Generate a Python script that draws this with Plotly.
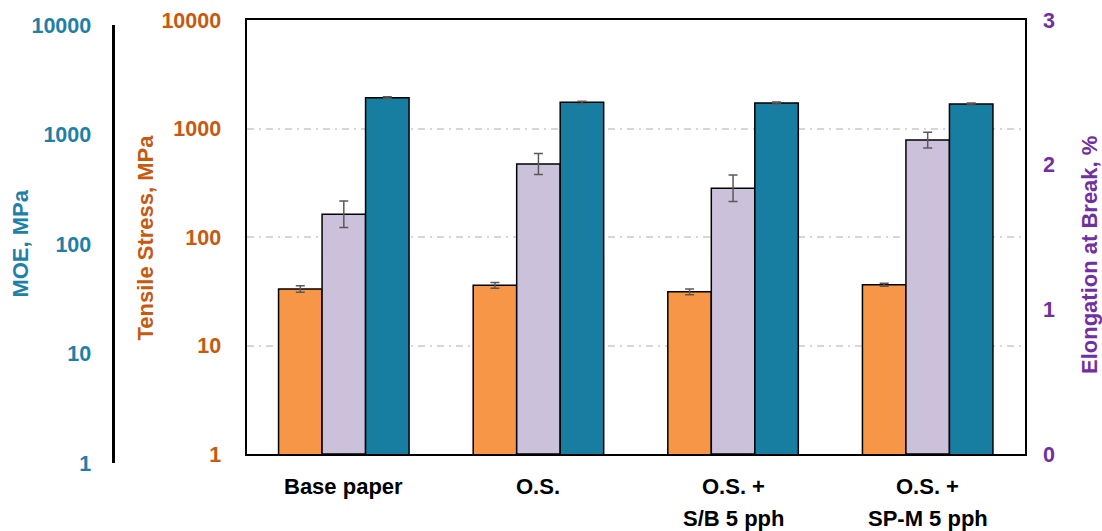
import plotly.graph_objects as go

categories = ["Base paper", "O.S.", "O.S. +\nS/B 5 pph", "O.S. +\nSP-M 5 pph"]
tensile = [33.2, 35.9, 31.3, 36.3]
tensile_err = [2.3, 2.2, 1.9, 1.2]
elongation = [1.657, 2.005, 1.837, 2.17]
elongation_err = [0.091, 0.073, 0.091, 0.054]
moe = [1923, 1743, 1718, 1683]
moe_err = [35, 40, 35, 35]
log_ticks = [1, 10, 100, 1000, 10000]
elong_ticks = [0, 1, 2, 3]

ORANGE_TXT = "#C55A11"
TEAL_TXT = "#1F80A7"
PURPLE = "#7030A0"
FONT = "Liberation Sans, Arial, sans-serif"
TICK_FS = 21.5
TITLE_FS = 22
CAT_FS = 22

W, H = 1102, 531
ML, MR, MT, MB = 60, 77, 10, 60
pw = W - ML - MR
ph = H - MT - MB


def px_x(x):
    return (x - ML) / pw


def px_y(y):
    return (H - MB - y) / ph


bar_w = 0.2235
err_style = dict(type="data", color="#595959", thickness=1.5, width=4.5)
line = dict(color="black", width=1.5)

fig = go.Figure()
fig.add_trace(go.Bar(x=categories, y=tensile, name="Tensile Stress",
                     marker=dict(color="#F79646", line=line),
                     width=bar_w, offset=-1.5 * bar_w,
                     error_y=dict(array=tensile_err, **err_style),
                     yaxis="y"))
fig.add_trace(go.Bar(x=categories, y=elongation, name="Elongation at Break",
                     marker=dict(color="#CCC1DA", line=line),
                     width=bar_w, offset=-0.5 * bar_w,
                     error_y=dict(array=elongation_err, **err_style),
                     yaxis="y2"))
fig.add_trace(go.Bar(x=categories, y=moe, name="MOE",
                     marker=dict(color="#177EA1", line=line),
                     width=bar_w, offset=0.5 * bar_w,
                     error_y=dict(array=moe_err, **err_style),
                     yaxis="y3"))
# empty trace so that the displayed MOE axis gets drawn
fig.add_trace(go.Scatter(x=[], y=[], yaxis="y4", hoverinfo="skip"))

tick_font = dict(family=FONT, size=TICK_FS, weight="bold")
ydom = [px_y(454), px_y(20)]

fig.update_layout(
    width=W, height=H,
    margin=dict(l=ML, r=MR, t=MT, b=MB, autoexpand=False),
    paper_bgcolor="white", plot_bgcolor="rgba(0,0,0,0)",
    showlegend=False,
    barmode="overlay",
    font=dict(family=FONT, size=TICK_FS),
    xaxis=dict(type="category", domain=[px_x(246.5), px_x(1025)], range=[-0.5, 3.5],
               showticklabels=False, ticks="", showgrid=False,
               showline=True, linecolor="black", linewidth=2, mirror=True,
               anchor="y", automargin=False),
    yaxis=dict(type="log", range=[0, 4], domain=ydom, tickvals=log_ticks,
               ticktext=[str(v) for v in log_ticks],
               tickfont=dict(color=ORANGE_TXT, **tick_font),
               ticklabelstandoff=19, ticks="",
               showgrid=True, gridcolor="#D6D6D6", gridwidth=1.5,
               griddash="7px,5px,2px,5px",
               showline=True, linecolor="black", linewidth=2, mirror=True,
               zeroline=False, anchor="x", automargin=False),
    yaxis2=dict(range=[0, 3], overlaying="y", side="right", anchor="x",
                tickvals=elong_ticks, ticktext=[str(v) for v in elong_ticks],
                tickfont=dict(color=PURPLE, **tick_font),
                ticklabelstandoff=17, ticks="",
                showgrid=False, zeroline=False, showline=False,
                automargin=False),
    yaxis3=dict(type="log", range=[0, 4], overlaying="y", visible=False,
                showgrid=False, automargin=False),
    yaxis4=dict(type="log", range=[0, 4], anchor="free",
                position=px_x(113.3), domain=[px_y(463.3), px_y(25)],
                tickvals=log_ticks, ticktext=[str(v) for v in log_ticks],
                tickfont=dict(color=TEAL_TXT, **tick_font),
                ticklabelstandoff=17, ticks="",
                showgrid=False, zeroline=False,
                showline=True, linecolor="black", linewidth=2.5,
                automargin=False),
)

title_font = dict(family=FONT, size=TITLE_FS)
annots = [
    dict(text="<b>Tensile Stress, MPa</b>", x=px_x(145), y=px_y(237.5),
         font=dict(color=ORANGE_TXT, **title_font)),
    dict(text="<b>MOE, MPa</b>", x=px_x(19.6), y=px_y(244),
         font=dict(color=TEAL_TXT, **title_font)),
    dict(text="<b>Elongation at Break, %</b>", x=px_x(1089), y=px_y(255),
         font=dict(color=PURPLE, **title_font)),
]
for a in annots:
    fig.add_annotation(xref="paper", yref="paper", textangle=-90,
                       xanchor="center", yanchor="middle", showarrow=False, **a)

for cat in categories:
    parts = cat.split("\n")
    for i, part in enumerate(parts):
        fig.add_annotation(xref="x", yref="paper", x=cat,
                           y=px_y(486.3 + 32.3 * i),
                           text=f"<b>{part}</b>", showarrow=False,
                           xanchor="center", yanchor="middle",
                           font=dict(family=FONT, size=CAT_FS, color="black"))

fig.write_html(
    "out.html",
    config={"displayModeBar": False},
    post_script="document.body.style.margin='0';document.body.style.padding='0';",
)
